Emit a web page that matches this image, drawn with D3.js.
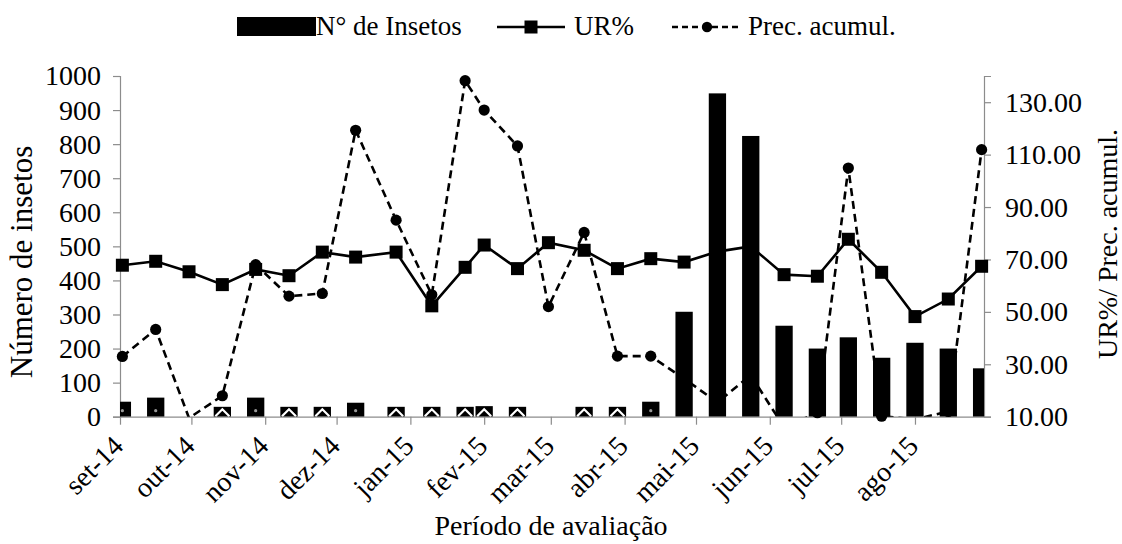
<!DOCTYPE html>
<html><head><meta charset="utf-8">
<script src="https://cdn.jsdelivr.net/npm/d3@7"></script>
</head>
<body style="margin:0;background:#fff">
<svg id="grafico" width="1122" height="544" style="display:block"></svg>
<script>
// ---- data ----
const dates = ["2014-09-02","2014-09-16","2014-09-30","2014-10-14","2014-10-28","2014-11-11","2014-11-25","2014-12-09","2014-12-26","2015-01-10","2015-01-24","2015-02-01","2015-02-15","2015-02-28","2015-03-15","2015-03-29","2015-04-12","2015-04-26","2015-05-10","2015-05-24","2015-06-07","2015-06-21","2015-07-04","2015-07-18","2015-08-01","2015-08-15","2015-08-29"];
const insetos = [44,56,0,29,56,29,29,41,29,29,29,31,29,0,29,29,44,308,949,824,267,200,233,173,217,200,142];
const ur = [67.8,69.3,65.3,60.4,66.2,63.8,72.8,70.9,72.8,52.3,67.0,75.5,66.5,76.4,73.5,66.5,70.3,69.0,73.0,75.0,64.2,63.6,77.7,65.1,48.2,54.9,67.4];
const prec = [33.0,43.3,9.5,18.0,68.0,56.0,57.0,119.3,85.0,56.5,138.2,127.0,113.3,52.0,80.3,33.1,33.1,24.5,15.5,25.8,6.0,11.5,104.9,10.2,9.0,12.0,111.9];
const monthTicks = ["2014-09-01","2014-10-01","2014-11-01","2014-12-01","2015-01-01","2015-02-01","2015-03-01","2015-04-01","2015-05-01","2015-06-01","2015-07-01","2015-08-01"];
const monthLabels = ["set-14","out-14","nov-14","dez-14","jan-15","fev-15","mar-15","abr-15","mai-15","jun-15","jul-15","ago-15"];
const leftTicks = [0,100,200,300,400,500,600,700,800,900,1000];
const rightTicks = [10,30,50,70,90,110,130];
const xDomain = ["2014-09-01","2015-08-30"];
const leftDomain = [0,1000];
const rightDomain = [10,140];
const seriesNames = ["N° de Insetos","UR%","Prec. acumul."];
const titles = {y:"Número de insetos", y2:"UR%/ Prec. acumul.", x:"Período de avaliação"};

// ---- layout ----
const FONT = "Liberation Serif";
const P = {l:120, r:984, t:76, b:416.7};
const parse = d3.utcParse("%Y-%m-%d");
const svg = d3.select("#grafico");
const x = d3.scaleUtc().domain(xDomain.map(parse)).range([P.l,P.r]);
const yL = d3.scaleLinear().domain(leftDomain).range([P.b,P.t]);
const yR = d3.scaleLinear().domain(rightDomain).range([P.b,P.t]);
const data = dates.map((d,i)=>({date:parse(d),ins:insetos[i],ur:ur[i],prec:prec[i]}));
const AX = "#8c8c8c";
const txt = (sel, size) => sel.attr("font-family", FONT).style("font-family", FONT).style("font-size", size + "px").attr("fill", "#000");

svg.append("defs").append("clipPath").attr("id","plotarea")
  .append("rect").attr("x",P.l).attr("y",P.t).attr("width",P.r-P.l).attr("height",P.b-P.t);

function styleAxis(g){
  g.attr("font-family", FONT);
  g.select(".domain").attr("stroke",AX).attr("stroke-width",1.2);
  g.selectAll(".tick line").attr("stroke",AX).attr("stroke-width",1.2);
  txt(g.selectAll(".tick text"), 28);
}
const gL = svg.append("g").attr("transform",`translate(${P.l},0)`)
  .call(d3.axisLeft(yL).tickValues(leftTicks).tickSize(7).tickPadding(12).tickFormat(d3.format("d")));
styleAxis(gL);
const gR = svg.append("g").attr("transform",`translate(${P.r},0)`)
  .call(d3.axisRight(yR).tickValues(rightTicks).tickSize(7).tickPadding(14).tickFormat(d3.format(".2f")));
styleAxis(gR);
const gX = svg.append("g").attr("transform",`translate(0,${P.b})`)
  .call(d3.axisBottom(x).tickValues(monthTicks.map(parse)).tickSize(8).tickFormat(""));
styleAxis(gX);
gX.select(".domain").attr("d",`M${P.l},0.5H${P.r}`);
txt(svg.append("g").selectAll("text").data(monthTicks).join("text")
  .attr("transform",(d)=>`translate(${x(parse(d))+5},${P.b+31}) rotate(-45)`)
  .attr("text-anchor","end")
  .text((d,i)=>monthLabels[i]), 28);

const gLines = svg.append("g").attr("clip-path","url(#plotarea)");
gLines.append("path").datum(data)
  .attr("d",d3.line().x(d=>x(d.date)).y(d=>yR(d.prec)))
  .attr("fill","none").attr("stroke","#000").attr("stroke-width",2.6).attr("stroke-dasharray","8,5");
gLines.append("path").datum(data)
  .attr("d",d3.line().x(d=>x(d.date)).y(d=>yR(d.ur)))
  .attr("fill","none").attr("stroke","#000").attr("stroke-width",2.6);
const inRange = v => v>=rightDomain[0] && v<=rightDomain[1];
svg.append("g").selectAll("circle").data(data.filter(d=>inRange(d.prec))).join("circle")
  .attr("cx",d=>x(d.date)).attr("cy",d=>yR(d.prec)).attr("r",5.6).attr("fill","#000");
svg.append("g").selectAll("rect").data(data.filter(d=>inRange(d.ur))).join("rect")
  .attr("x",d=>x(d.date)-6.5).attr("y",d=>yR(d.ur)-6.5).attr("width",13).attr("height",13).attr("fill","#000");

const bw = 17.3;
const gBars = svg.append("g").attr("clip-path","url(#plotarea)");
gBars.selectAll("rect").data(data.filter(d=>d.ins>0)).join("rect")
  .attr("x",d=>x(d.date)-bw/2).attr("width",bw)
  .attr("y",d=>yL(d.ins)).attr("height",d=>yL(0)-yL(d.ins)).attr("fill","#000");
const small = data.filter(d=>d.ins>0 && d.ins<60);
gBars.selectAll("path.mk").data(small.filter(d=>d.ins<35)).join("path").attr("class","mk")
  .attr("d",d=>{const cx=x(d.date), b=yL(0); return `M${cx-7},${b-0.5}L${cx},${b-7.5}L${cx+7},${b-0.5}`;})
  .attr("fill","none").attr("stroke","#fff").attr("stroke-width",2.2);
gBars.selectAll("circle.mk").data(small.filter(d=>d.ins>=35)).join("circle").attr("class","mk")
  .attr("cx",d=>x(d.date)).attr("cy",yL(0)-6).attr("r",1.6).attr("fill","#999");

txt(svg.append("text").attr("transform",`translate(32,262) rotate(-90)`).attr("text-anchor","middle").text(titles.y), 31);
txt(svg.append("text").attr("transform",`translate(1117,244) rotate(-90)`).attr("text-anchor","middle").text(titles.y2), 28);
txt(svg.append("text").attr("x",551).attr("y",535).attr("text-anchor","middle").text(titles.x), 28);

const lg = svg.append("g");
lg.append("rect").attr("x",237).attr("y",17).attr("width",79).attr("height",19).attr("fill","#000");
txt(lg.append("text").attr("x",316).attr("y",35).text(seriesNames[0]), 27);
lg.append("line").attr("x1",497).attr("x2",565).attr("y1",27).attr("y2",27).attr("stroke","#000").attr("stroke-width",2.6);
lg.append("rect").attr("x",531-6.5).attr("y",27-6.5).attr("width",13).attr("height",13).attr("fill","#000");
txt(lg.append("text").attr("x",574).attr("y",35).text(seriesNames[1]), 27);
lg.append("line").attr("x1",672).attr("x2",742).attr("y1",27).attr("y2",27).attr("stroke","#000").attr("stroke-width",2.6).attr("stroke-dasharray","6,4");
lg.append("circle").attr("cx",707).attr("cy",27).attr("r",5.2).attr("fill","#000");
txt(lg.append("text").attr("x",748).attr("y",35).text(seriesNames[2]), 27);
</script>
</body></html>
